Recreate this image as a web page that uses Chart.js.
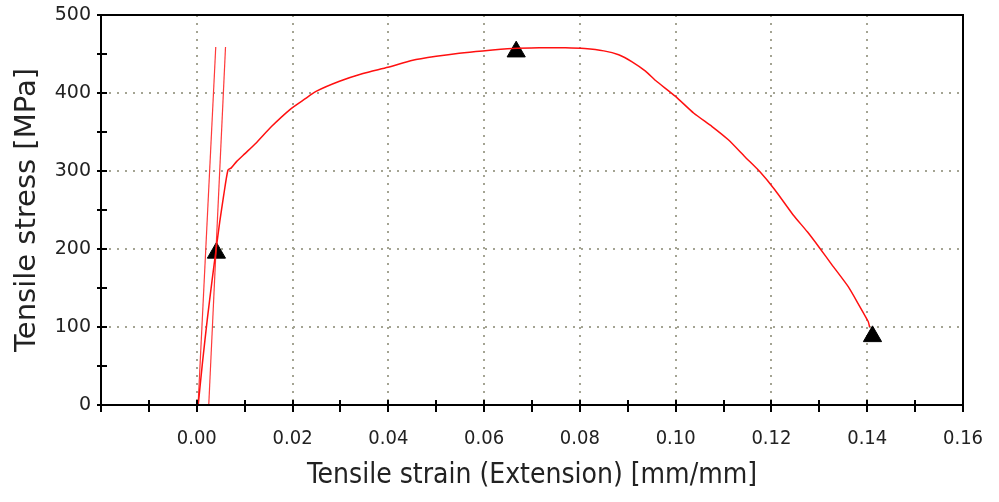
<!DOCTYPE html>
<html>
<head>
<meta charset="utf-8">
<script src="https://cdn.jsdelivr.net/npm/chart.js@4.4.0/dist/chart.umd.min.js"></script>
<style>
  html, body { margin: 0; padding: 0; background: #fff; }
</style>
</head>
<body>
<canvas id="tensileChart" width="999" height="502"></canvas>
<script>
// axis ticks (minor every 0.01 / 50, labels every 0.02 / 100)
const strainTicks = [-0.02, -0.01, 0, 0.01, 0.02, 0.03, 0.04, 0.05, 0.06, 0.07, 0.08, 0.09, 0.10, 0.11, 0.12, 0.13, 0.14, 0.15, 0.16];
const strainLabels = [0, 0.02, 0.04, 0.06, 0.08, 0.10, 0.12, 0.14, 0.16];
const stressTicks = [0, 50, 100, 150, 200, 250, 300, 350, 400, 450, 500];
const stressLabels = [0, 100, 200, 300, 400, 500];

// measured curve
const curveStrain = [0.0003, 0.0012, 0.0022, 0.0032, 0.0040, 0.0048, 0.0056, 0.0065, 0.0072, 0.0083, 0.0100,
  0.0124, 0.0156, 0.0197, 0.0225, 0.0249, 0.0298, 0.0347, 0.0399, 0.0451, 0.0500, 0.0548, 0.0597, 0.0659,
  0.0715, 0.0770, 0.0810, 0.0850, 0.0881, 0.0909, 0.0937, 0.0958, 0.0999, 0.1038, 0.1076, 0.1110,
  0.1145, 0.1176, 0.1207, 0.1245, 0.1275, 0.1301, 0.1326, 0.1360, 0.1381, 0.1402, 0.1405];
const curveStress = [0, 55, 110, 160, 198, 235, 268, 301, 304, 312, 322,
  336, 357, 380, 392, 402, 415, 425, 433, 442, 447, 451, 454, 457,
  458, 458, 457, 454, 449, 440, 428, 416, 396, 374, 357, 340,
  318, 299, 276, 244, 222, 201, 180, 152, 130, 107, 100];

// modulus line and offset line
const modulusStrain = [0.00027, 0.00396];
const modulusStress = [0, 459];
const offsetStrain = [0.0025, 0.0060];
const offsetStress = [0, 459];

// yield, max and break markers
const markerStrain = [0.0041, 0.0667, 0.1411];
const markerStress = [195, 453, 88];

const zip = (xs, ys) => xs.map((v, i) => ({ x: v, y: ys[i] }));
const near = (list, v) => list.some(l => Math.abs(l - v) < 1e-6);

const axisFrame = {
  id: 'axisFrame',
  afterDraw(chart) {
    const { ctx, chartArea: a, scales: { x, y } } = chart;
    ctx.save();
    ctx.strokeStyle = '#000';
    ctx.lineWidth = 2;
    ctx.strokeRect(a.left, a.top, a.right - a.left, a.bottom - a.top);
    ctx.beginPath();
    x.ticks.forEach(t => {
      const px = Math.round(x.getPixelForValue(t.value));
      ctx.moveTo(px, a.bottom - 5);
      ctx.lineTo(px, a.bottom + 7);
    });
    y.ticks.forEach(t => {
      const py = Math.round(y.getPixelForValue(t.value));
      ctx.moveTo(a.left - 4, py);
      ctx.lineTo(a.left + 6, py);
    });
    ctx.stroke();
    ctx.restore();
  }
};

const gridGrey = '#a4a493';
const textColor = '#222';

new Chart(document.getElementById('tensileChart'), {
  type: 'scatter',
  data: {
    datasets: [
      {
        data: zip(curveStrain, curveStress),
        showLine: true,
        borderColor: '#ff1010',
        borderWidth: 1.5,
        pointRadius: 0,
        tension: 0.2
      },
      {
        data: zip(modulusStrain, modulusStress),
        showLine: true,
        borderColor: '#ff3a3a',
        borderWidth: 1.2,
        pointRadius: 0
      },
      {
        data: zip(offsetStrain, offsetStress),
        showLine: true,
        borderColor: '#ff3a3a',
        borderWidth: 1.2,
        pointRadius: 0
      },
      {
        data: zip(markerStrain, markerStress),
        showLine: false,
        pointStyle: 'triangle',
        pointRadius: 10.5,
        backgroundColor: '#000',
        borderColor: '#000',
        borderWidth: 1
      }
    ]
  },
  options: {
    responsive: false,
    animation: false,
    layout: { padding: { left: 0, top: 15, right: 36, bottom: 0 } },
    plugins: { legend: { display: false }, tooltip: { enabled: false } },
    scales: {
      x: {
        type: 'linear',
        min: -0.02,
        max: 0.16,
        afterBuildTicks: s => { s.ticks = strainTicks.map(v => ({ value: v })); },
        afterFit: s => { s.height = 97; s.paddingLeft = 0; s.paddingRight = 0; },
        grid: {
          drawTicks: false,
          lineWidth: 2,
          color: c => (c.tick && near(strainLabels, c.tick.value) && c.tick.value < 0.155) ? gridGrey : 'transparent'
        },
        border: { display: false, dash: [2, 6] },
        ticks: {
          autoSkip: false,
          maxRotation: 0,
          padding: 22,
          color: textColor,
          font: { family: 'DejaVu Sans Condensed', size: 20 },
          callback: v => near(strainLabels, v) ? v.toFixed(2) : ''
        },
        title: {
          display: true,
          text: 'Tensile strain (Extension) [mm/mm]',
          color: textColor,
          font: { family: 'DejaVu Sans Condensed', size: 28 },
          padding: { top: 9, bottom: 9 }
        }
      },
      y: {
        type: 'linear',
        min: 0,
        max: 500,
        afterBuildTicks: s => { s.ticks = stressTicks.map(v => ({ value: v })); },
        afterFit: s => { s.width = 101; s.paddingTop = 0; s.paddingBottom = 0; },
        grid: {
          drawTicks: false,
          lineWidth: 2,
          color: c => (c.tick && near(stressLabels, c.tick.value) && c.tick.value > 0 && c.tick.value < 500) ? gridGrey : 'transparent'
        },
        border: { display: false, dash: [2, 6] },
        ticks: {
          autoSkip: false,
          padding: 10,
          color: textColor,
          font: { family: 'DejaVu Sans', size: 19 },
          callback: v => near(stressLabels, v) ? String(v) : ''
        },
        title: {
          display: true,
          text: 'Tensile stress [MPa]',
          color: textColor,
          font: { family: 'DejaVu Sans', size: 29 },
          padding: { top: 10, bottom: 10 }
        }
      }
    }
  },
  plugins: [axisFrame]
});
</script>
</body>
</html>
